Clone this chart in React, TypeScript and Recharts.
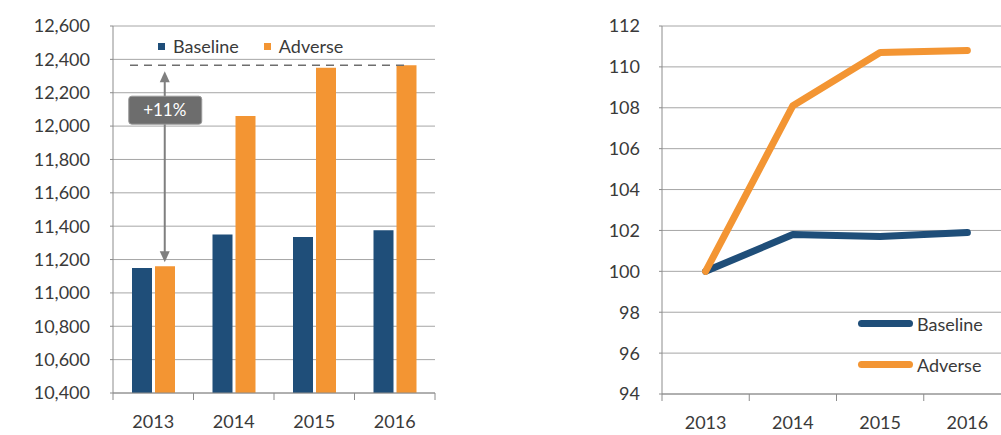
import React from "react";
import {
  BarChart,
  Bar,
  LineChart,
  Line,
  XAxis,
  YAxis,
  CartesianGrid,
  Legend,
  ReferenceLine,
} from "recharts";

const years = ["2013", "2014", "2015", "2016"];
const seriesNames = ["Baseline", "Adverse"];
const baselineLevel = [11150, 11350, 11335, 11375];
const adverseLevel = [11160, 12060, 12350, 12365];
const baselineIndex = [100, 101.8, 101.7, 101.9];
const adverseIndex = [100, 108.1, 110.7, 110.8];
const levelTicks = [10400, 10600, 10800, 11000, 11200, 11400, 11600, 11800, 12000, 12200, 12400, 12600];
const indexTicks = [94, 96, 98, 100, 102, 104, 106, 108, 110, 112];
const changeLabel = "+11%";

const BLUE = "#1f4e79";
const ORANGE = "#f39533";
const GRID = "#a6a6a6";
const AXIS = "#8c8c8c";
const TEXT = "#3a3a3a";
const FONT = "Lato, 'Open Sans', sans-serif";

const levelData = years.map((year, i) => ({
  year,
  Baseline: baselineLevel[i],
  Adverse: adverseLevel[i],
}));

const indexData = years.map((year, i) => ({
  year,
  Baseline: baselineIndex[i],
  Adverse: adverseIndex[i],
}));

// keep legend in series order (recharts sorts by name otherwise)
const inSeriesOrder = (payload: any[] = []) =>
  [...payload].sort((a, b) => seriesNames.indexOf(a.value) - seriesNames.indexOf(b.value));

// Excel puts category ticks on the band edges, not the centres
function YearTick(props: any) {
  const { x, y, payload, index, visibleTicksCount, half } = props;
  const h = payload.offset || half;
  const axisY = y - 15;
  const last = index === visibleTicksCount - 1;
  return (
    <g>
      <line x1={x - h} x2={x - h} y1={axisY} y2={axisY + 7} stroke={AXIS} />
      {last && <line x1={x + h} x2={x + h} y1={axisY} y2={axisY + 7} stroke={AXIS} />}
      <text x={x} y={axisY + 22} dy="0.71em" textAnchor="middle" fill={TEXT} fontSize={18} fontFamily={FONT}>
        {payload.value}
      </text>
    </g>
  );
}

function BarLegend(props: any) {
  const items = inSeriesOrder(props.payload);
  return (
    <div style={{ display: "flex", alignItems: "center", fontFamily: FONT, fontSize: 18, color: TEXT }}>
      {items.map((it: any, i: number) => (
        <div key={it.value} style={{ display: "flex", alignItems: "center", marginRight: i === 0 ? 25 : 0 }}>
          <span style={{ width: 7, height: 7, background: it.color, marginRight: 8 }} />
          <span>{it.value}</span>
        </div>
      ))}
    </div>
  );
}

function LineLegend(props: any) {
  const items = inSeriesOrder(props.payload);
  return (
    <div style={{ fontFamily: FONT, fontSize: 18, color: TEXT }}>
      {items.map((it: any) => (
        <div key={it.value} style={{ display: "flex", alignItems: "center", height: 41 }}>
          <span style={{ width: 55, height: 7, borderRadius: 4, background: it.color, marginRight: 4 }} />
          <span>{it.value}</span>
        </div>
      ))}
    </div>
  );
}

function DashedCap(props: any) {
  const { x1, x2, y1 } = props;
  return (
    <line x1={x1 + 17} x2={x2 - 25} y1={y1} y2={y1} stroke="#6e6e6e" strokeWidth={1.5} strokeDasharray="8 6" />
  );
}

function ChangeArrow(props: any) {
  const { x1, y1, y2 } = props;
  const x = x1 + 11.5;
  const bottom = Math.max(y1, y2) - 4;
  const top = Math.min(y1, y2) + 6;
  const boxY = top + 25;
  return (
    <g>
      <line x1={x} x2={x} y1={top + 9} y2={bottom - 9} stroke="#7f7f7f" strokeWidth={2} />
      <path d={`M${x},${top} L${x - 5},${top + 11} L${x + 5},${top + 11} Z`} fill="#7f7f7f" />
      <path d={`M${x},${bottom} L${x - 5},${bottom - 11} L${x + 5},${bottom - 11} Z`} fill="#7f7f7f" />
      <rect x={x - 36} y={boxY} width={73} height={28} rx={3} fill="#6d6d6d" stroke="#9a9a9a" />
      <text x={x} y={boxY + 14} dy="0.35em" textAnchor="middle" fill="#ffffff" fontSize={17} fontFamily={FONT}>
        {changeLabel}
      </text>
    </g>
  );
}

export default function App() {
  const yTick = { fill: TEXT, fontSize: 18, fontFamily: FONT };
  return (
    <div
      style={{
        position: "absolute",
        left: 0,
        top: 0,
        width: 1001,
        height: 435,
        overflow: "hidden",
        background: "#fff",
      }}
    >
      <div style={{ position: "absolute", left: 0, top: 0 }}>
        <BarChart
          width={445}
          height={435}
          data={levelData}
          margin={{ top: 26, right: 10, left: 0, bottom: 12 }}
          barSize={20}
          barGap={3}
        >
          <CartesianGrid vertical={false} stroke={GRID} />
          <XAxis
            dataKey="year"
            height={30}
            tickSize={7}
            tickMargin={8}
            tickLine={false}
            stroke={AXIS}
            tick={<YearTick half={40.25} />}
          />
          <YAxis
            width={113}
            domain={[10400, 12600]}
            ticks={levelTicks}
            interval={0}
            tickSize={3}
            tickMargin={20}
            stroke={AXIS}
            tick={yTick}
            tickFormatter={(v: number) => v.toLocaleString("en-US")}
          />
          <Legend
            layout="horizontal"
            verticalAlign="middle"
            align="center"
            content={<BarLegend />}
            wrapperStyle={{ top: 35, left: 158, width: "auto" }}
          />
          <Bar dataKey="Baseline" fill={BLUE} isAnimationActive={false} />
          <Bar dataKey="Adverse" fill={ORANGE} isAnimationActive={false} />
          <ReferenceLine y={adverseLevel[3]} shape={<DashedCap />} />
          <ReferenceLine
            segment={[
              { x: years[0], y: adverseLevel[0] },
              { x: years[0], y: adverseLevel[3] },
            ]}
            shape={<ChangeArrow />}
          />
        </BarChart>
      </div>
      <div style={{ position: "absolute", left: 560, top: 0 }}>
        <LineChart
          width={460}
          height={435}
          data={indexData}
          margin={{ top: 26, right: 9, left: 0, bottom: 11 }}
        >
          <CartesianGrid vertical={false} stroke={GRID} />
          <XAxis
            dataKey="year"
            scale="band"
            height={30}
            tickSize={7}
            tickMargin={8}
            tickLine={false}
            stroke={AXIS}
            tick={<YearTick half={43.6} />}
          />
          <YAxis
            width={102}
            domain={[94, 112]}
            ticks={indexTicks}
            interval={0}
            tickSize={3}
            tickMargin={19}
            stroke={AXIS}
            tick={yTick}
          />
          <Legend
            layout="vertical"
            verticalAlign="middle"
            align="center"
            content={<LineLegend />}
            wrapperStyle={{ top: 303, left: 298, width: "auto" }}
          />
          <Line
            dataKey="Baseline"
            stroke={BLUE}
            strokeWidth={7}
            strokeLinecap="round"
            strokeLinejoin="round"
            dot={false}
            isAnimationActive={false}
          />
          <Line
            dataKey="Adverse"
            stroke={ORANGE}
            strokeWidth={7}
            strokeLinecap="round"
            strokeLinejoin="round"
            dot={false}
            isAnimationActive={false}
          />
        </LineChart>
      </div>
    </div>
  );
}
